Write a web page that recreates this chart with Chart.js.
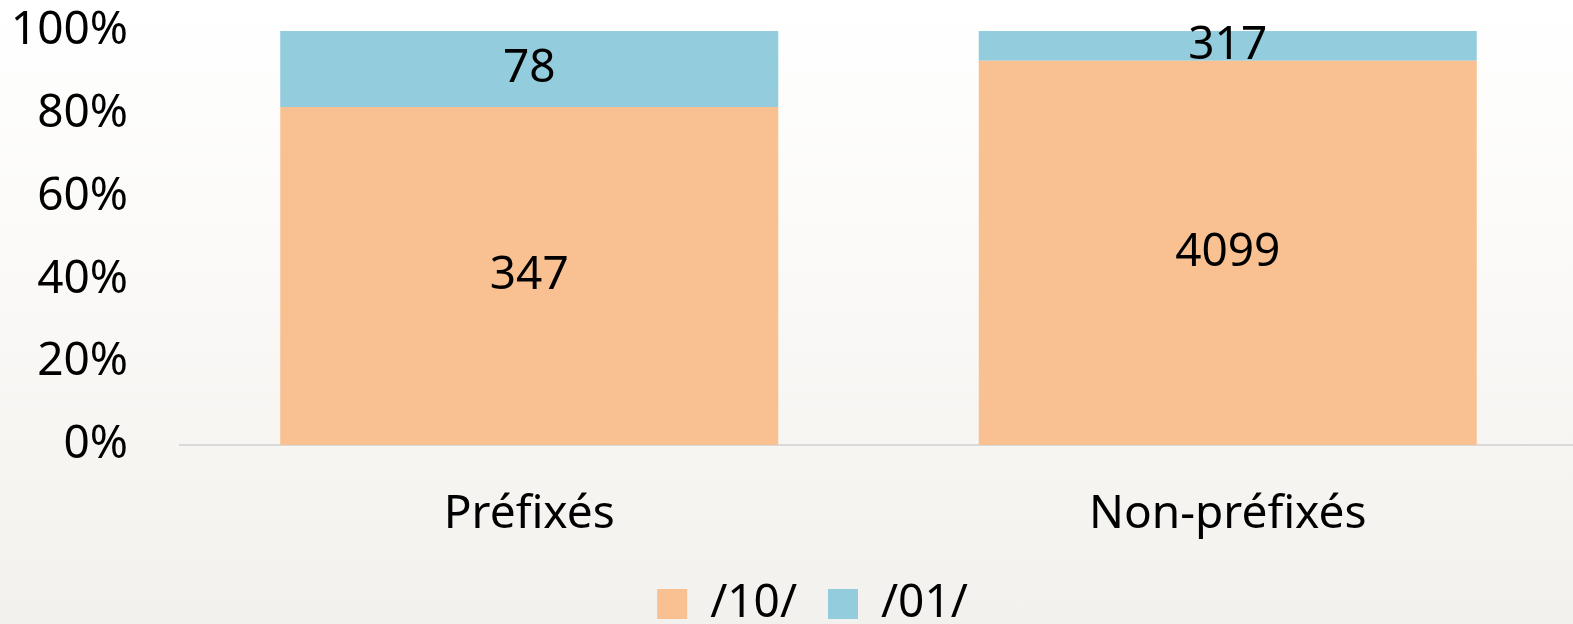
<!DOCTYPE html>
<html lang="fr">
<head>
  <meta charset="UTF-8">
  <title>Préfixés / Non-préfixés</title>
  <script src="https://cdn.jsdelivr.net/npm/chart.js"></script>
  <style>
    html, body { margin: 0; padding: 0; }
    body {
      width: 1573px; height: 624px; overflow: hidden;
      background: linear-gradient(180deg, #ffffff 0%, #fbfaf8 40%, #f3f1ed 100%);
    }
    canvas { display: block; }
  </style>
</head>
<body>
  <canvas id="chart" width="1577" height="637"></canvas>
  <script>
    // Data
    var categories = ['Préfixés', 'Non-préfixés'];
    var seriesNames = ['/10/', '/01/'];
    var counts10 = [347, 4099];
    var counts01 = [78, 317];
    var yTicks = ['0%', '20%', '40%', '60%', '80%', '100%'];

    var totals = counts10.map(function (v, i) { return v + counts01[i]; });
    var pct10 = counts10.map(function (v, i) { return v / totals[i] * 100; });
    var pct01 = counts01.map(function (v, i) { return v / totals[i] * 100; });

    var FONT = '"Noto Sans", sans-serif';
    var SIZE = 46;

    // draw raw counts in the middle of each segment
    var countLabels = {
      id: 'countLabels',
      afterDatasetsDraw: function (chart) {
        var ctx = chart.ctx;
        ctx.save();
        ctx.font = SIZE + 'px ' + FONT;
        ctx.fillStyle = '#000';
        ctx.textAlign = 'center';
        ctx.textBaseline = 'middle';
        chart.data.datasets.forEach(function (ds, di) {
          var meta = chart.getDatasetMeta(di);
          meta.data.forEach(function (bar, i) {
            ctx.fillText(String(ds.counts[i]), bar.x, (bar.y + bar.base) / 2);
          });
        });
        ctx.restore();
      }
    };

    // legend sits a bit right of centre in the original
    var legendShift = {
      id: 'legendShift',
      afterLayout: function (chart) {
        chart.legend.left += 24;
        chart.legend.right += 24;
      }
    };

    var chart = new Chart(document.getElementById('chart'), {
      type: 'bar',
      data: {
        labels: categories,
        datasets: [
          {
            label: seriesNames[0],
            data: pct10,
            counts: counts10,
            backgroundColor: '#f9c191',
            borderWidth: 0,
            barPercentage: 0.713,
            categoryPercentage: 1
          },
          {
            label: seriesNames[1],
            data: pct01,
            counts: counts01,
            backgroundColor: '#93cddd',
            borderWidth: 0,
            barPercentage: 0.713,
            categoryPercentage: 1
          }
        ]
      },
      options: {
        responsive: false,
        animation: false,
        layout: { padding: { top: 31, right: 0, left: 0, bottom: 0 } },
        plugins: {
          legend: {
            position: 'bottom',
            labels: {
              font: { family: FONT, size: SIZE },
              color: '#000',
              boxWidth: 30,
              boxHeight: 30,
              padding: 8,
              generateLabels: function (chart) {
                var items = Chart.defaults.plugins.legend.labels.generateLabels(chart);
                items.forEach(function (it, i) {
                  if (i < items.length - 1) it.text = it.text + '\u2002';
                });
                return items;
              }
            }
          },
          tooltip: { enabled: false }
        },
        scales: {
          x: {
            stacked: true,
            grid: { display: false, drawTicks: false },
            border: { color: '#d9d9d9', width: 2 },
            afterFit: function (scale) { scale.height = 128; },
            ticks: {
              color: '#000',
              font: { family: FONT, size: SIZE },
              padding: 42
            }
          },
          y: {
            stacked: true,
            min: 0,
            max: 100,
            grid: { display: false, drawTicks: false },
            border: { display: false },
            afterFit: function (scale) {
              scale.width = 180;
              scale.paddingTop = 0;
              scale.paddingBottom = 0;
            },
            ticks: {
              stepSize: 20,
              color: '#000',
              font: { family: FONT, size: SIZE },
              padding: 52,
              callback: function (value) { return yTicks[value / 20]; }
            }
          }
        }
      },
      plugins: [countLabels, legendShift]
    });
  </script>
</body>
</html>
